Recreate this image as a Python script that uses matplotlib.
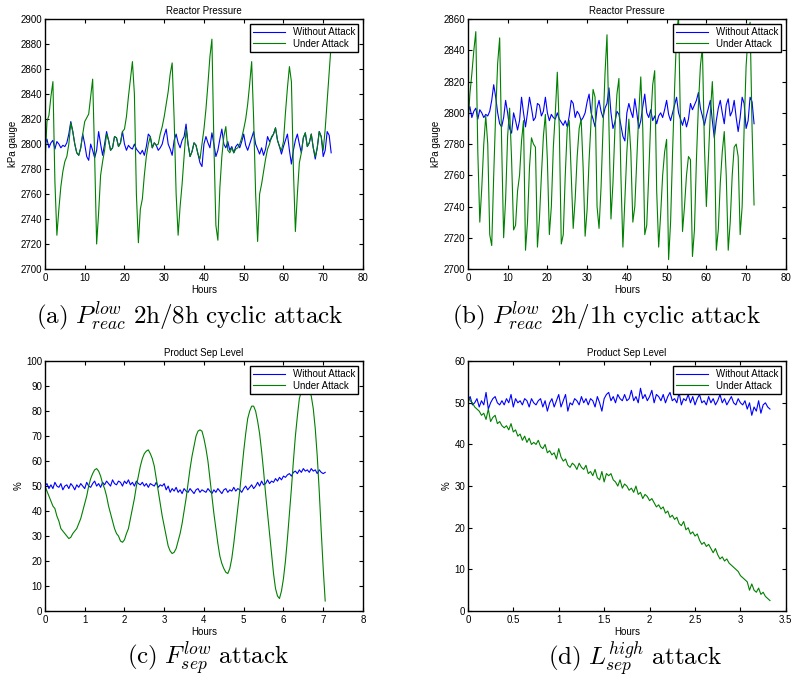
import numpy as np
import matplotlib.pyplot as plt

plt.rcParams['font.family'] = ['Liberation Sans', 'DejaVu Sans']
plt.rcParams['mathtext.fontset'] = 'cm'

# Reactor pressure, sampled every 0.5 h from 0 to 72 h
pressure_normal = [
    2800, 2804, 2797, 2801, 2803, 2796, 2802, 2800, 2797, 2799,
    2798, 2801, 2808, 2818, 2810, 2800, 2793, 2791, 2797, 2808,
    2800, 2790, 2787, 2800, 2795, 2789, 2795, 2810, 2800, 2791,
    2800, 2810, 2803, 2795, 2797, 2806, 2805, 2798, 2801, 2810,
    2800, 2795, 2799, 2797, 2796, 2800, 2796, 2794, 2792, 2795,
    2791, 2798, 2808, 2806, 2797, 2801, 2799, 2795, 2797, 2800,
    2807, 2812, 2800, 2796, 2791, 2803, 2808, 2801, 2797, 2803,
    2806, 2816, 2800, 2790, 2794, 2801, 2799, 2792, 2785, 2782,
    2800, 2806, 2801, 2797, 2809, 2800, 2790, 2795, 2804, 2812,
    2800, 2797, 2802, 2795, 2798, 2793, 2798, 2800, 2797, 2802,
    2808, 2799, 2795, 2800, 2805, 2810, 2800, 2796, 2792, 2797,
    2791, 2796, 2806, 2802, 2805, 2808, 2813, 2803, 2798, 2792,
    2798, 2803, 2808, 2795, 2784, 2795, 2803, 2808, 2800, 2793,
    2805, 2809, 2798, 2801, 2808, 2797, 2788, 2797, 2810, 2806,
    2790, 2795, 2810, 2807, 2793,
]

pressure_attack_8h = [
    2784, 2818, 2823, 2838, 2850, 2770, 2727, 2748, 2766, 2778,
    2786, 2790, 2800, 2817, 2810, 2800, 2793, 2791, 2797, 2808,
    2818, 2821, 2824, 2838, 2852, 2790, 2720, 2745, 2775, 2786,
    2795, 2808, 2803, 2795, 2797, 2806, 2805, 2798, 2801, 2810,
    2812, 2822, 2838, 2852, 2866, 2840, 2760, 2721, 2748, 2756,
    2775, 2790, 2800, 2806, 2797, 2801, 2799, 2800, 2808, 2814,
    2822, 2832, 2842, 2856, 2865, 2820, 2760, 2727, 2750, 2768,
    2790, 2812, 2800, 2790, 2794, 2801, 2799, 2792, 2788, 2800,
    2812, 2828, 2848, 2870, 2884, 2800, 2735, 2723, 2765, 2790,
    2806, 2814, 2795, 2793, 2797, 2793, 2796, 2797, 2800, 2805,
    2812, 2820, 2832, 2848, 2866, 2820, 2760, 2722, 2760, 2768,
    2778, 2788, 2796, 2800, 2806, 2808, 2813, 2803, 2798, 2795,
    2802, 2825, 2845, 2862, 2850, 2780, 2730, 2760, 2785, 2793,
    2805, 2809, 2798, 2801, 2808, 2797, 2790, 2797, 2810, 2806,
    2795, 2812, 2835, 2858, 2880,
]

pressure_attack_1h = [
    2790, 2812, 2825, 2840, 2852, 2775, 2730, 2752, 2780, 2798,
    2780, 2722, 2715, 2760, 2800, 2832, 2848, 2780, 2720, 2745,
    2785, 2803, 2770, 2725, 2728, 2750, 2760, 2782, 2795, 2712,
    2730, 2765, 2784, 2780, 2778, 2714, 2732, 2760, 2785, 2799,
    2770, 2722, 2740, 2778, 2800, 2826, 2790, 2716, 2722, 2760,
    2790, 2795, 2760, 2726, 2745, 2772, 2790, 2796, 2765, 2721,
    2738, 2770, 2795, 2815, 2810, 2740, 2726, 2752, 2790, 2825,
    2850, 2790, 2732, 2755, 2790, 2812, 2822, 2760, 2714, 2745,
    2775, 2796, 2775, 2730, 2740, 2770, 2800, 2823, 2790, 2722,
    2728, 2760, 2795, 2818, 2827, 2750, 2714, 2735, 2760, 2775,
    2783, 2706, 2730, 2775, 2815, 2850, 2862, 2790, 2724, 2740,
    2760, 2772, 2770, 2708, 2725, 2770, 2805, 2830, 2842, 2780,
    2740, 2770, 2800, 2820, 2790, 2712, 2725, 2755, 2775, 2788,
    2760, 2712, 2730, 2760, 2778, 2780, 2772, 2722, 2740, 2790,
    2830, 2850, 2858, 2790, 2741,
]

# Product separator level, sampled every 0.05 h from 0 to 7.05 h
level_normal_c = [
    50, 51, 49, 50.5, 49, 51.5, 50, 49.5, 51, 48.5, 50, 50.5, 49, 51, 50, 48.5, 50.5, 49.5, 51, 50, 49,
    51.5, 50, 49.5, 51, 52, 50, 51, 49.5, 51.5, 50.5, 52, 51, 50, 52.5, 51, 50.5, 52, 51.5, 50, 52,
    51, 52.5, 50.5, 51.5, 50, 52, 51, 50.5, 51.5, 50, 51, 49.5, 51, 50.5, 50, 51.5, 49.5, 50.5, 50, 51,
    48.5, 50, 47.5, 49, 48, 49.5, 47.5, 48.5, 47, 49, 48, 47.5, 49, 48, 47, 48.5, 49, 47.5, 48.5, 48,
    47.5, 49, 48, 47, 48.5, 47.5, 49, 48, 47, 48.5, 49, 47.5, 48.5, 48, 49.5, 48, 49, 48.5, 47.5, 49,
    50, 48.5, 49.5, 50.5, 49, 50, 51.5, 50, 52, 50.5, 51, 52.5, 51, 52, 51.5, 53, 52, 53.5, 52.5, 54,
    53.5, 54.5, 55, 54, 55.5, 56, 55, 56.5, 55.5, 57, 56, 56.5, 55.5, 57, 56, 56.5, 55, 56.5, 55.5, 55, 55.5,
]

level_attack_c = [
    50, 48, 46, 44, 42, 41, 38, 36, 33, 32, 31, 30, 29, 29.5, 31, 32, 33, 35, 37, 40,
    43, 46, 50, 53, 55, 56.5, 57, 56, 54, 51, 49, 46, 42, 39, 36, 33, 31, 30, 28, 27.5,
    28.5, 31, 33, 37, 41, 45, 50, 54, 58, 61, 63, 64, 64.5, 63, 61, 58, 53, 48, 43, 38,
    34, 30, 26, 24, 23, 23.5, 25, 28, 31, 35, 40, 45, 51, 57, 62, 66, 70, 72, 72.5, 72,
    69, 65, 60, 53, 46, 39, 33, 27, 22, 19, 17, 15.5, 15, 17, 21, 27, 34, 41, 48, 56,
    64, 71, 77, 80, 82, 82, 80, 76, 71, 64, 56, 47, 39, 31, 23, 15, 9, 6, 5, 8,
    13, 20, 29, 39, 49, 60, 70, 78, 85, 88, 89, 89, 89, 88.5, 86, 81, 73, 62, 48, 32,
    17, 4,
]

# Product separator level, sampled every 0.025 h from 0 to 3.325 h
level_normal_d = [
    50.5, 51.5, 49.5, 50, 51, 49, 50.5, 49.5, 52.5, 48.5, 50,
    51, 51.5, 50, 49.5, 50.5, 49.5, 51, 50, 52, 49,
    51, 50, 50.5, 49.5, 51, 50.5, 49, 51, 50, 49.5,
    50.5, 51, 49, 50.5, 48, 50, 51, 49, 50.5, 52,
    49, 50.5, 52, 48, 50, 49.5, 51, 50.5, 49.5, 51.5,
    50, 51, 49.5, 51, 50.5, 49, 51.5, 50, 48, 51,
    52, 52.5, 50.5, 51.5, 50, 52, 51, 50.5, 52, 50.5,
    51, 53, 50.5, 51.5, 50, 53.5, 51, 52, 50.5, 51.5,
    53, 50, 52, 51.5, 50.5, 52, 50, 51.5, 52.5, 50.5,
    51, 50, 52.5, 49.5, 51, 50.5, 52, 50, 51.5, 49.5,
    51, 52, 50, 50.5, 49.5, 51.5, 50, 51, 49.5, 50.5,
    52, 50, 51, 49.5, 50.5, 51.5, 50, 49.5, 51, 50,
    49.5, 50.5, 48.5, 50, 47, 49, 48, 50.5, 47.5, 49.5,
    50, 49, 48.5,
]

level_attack_d = [
    51.5, 50.5, 50, 49, 48.5, 48, 47, 47.5, 46, 48.5, 45.5,
    46.5, 47, 45, 45.5, 44.5, 44, 44.5, 43.5, 45, 43,
    43.5, 42, 42.5, 41, 42, 40.5, 41.5, 40, 40.5, 40,
    41, 39.5, 39, 40, 38, 38.5, 37.5, 38, 36.5, 39,
    37, 36, 36.5, 35, 34.5, 35.5, 35, 34, 35.5, 34.5,
    34, 35, 33, 33.5, 32.5, 34, 32, 31.5, 33.5, 31,
    33, 32.5, 33, 31.5, 31, 30, 31.5, 29.5, 30.5, 30,
    29, 29.5, 28.5, 30, 28, 28.5, 27, 28, 27.5, 26.5,
    27, 26, 25, 25.5, 24.5, 25, 23.5, 24, 22.5, 23,
    22, 22.5, 21, 20.5, 21.5, 19.5, 20, 18.5, 19, 18,
    18.5, 17, 16, 16.5, 15.5, 16, 15, 14, 15, 13.5,
    12.5, 13, 12, 12.5, 11.5, 11, 10.5, 10, 9.5, 8.5,
    8, 7.5, 7, 5, 6.5, 5, 4.5, 5.5, 4, 4.5,
    3.5, 3, 2.5,
]

d_ticks = [0, 0.5, 1, 1.5, 2, 2.5, 3, 3.5]
d_tick_labels = ['0', '0.5', '1', '1.5', '2', '2.5', '3', '3.5']

hours_ab = np.arange(len(pressure_normal)) * 0.5
hours_c = np.arange(len(level_normal_c)) * 0.05
hours_d = np.arange(len(level_normal_d)) * 0.025

BLUE = (0, 0, 1)
GREEN = (0, 0.5, 0)

fig = plt.figure(figsize=(7.93, 6.77), dpi=100)

def setup(ax, title, ylabel, xlim, ylim, xticks, yticks):
    ax.set_xlim(xlim)
    ax.set_ylim(ylim)
    ax.set_xticks(xticks)
    ax.set_yticks(yticks)
    ax.tick_params(direction='in', top=True, right=True, labelsize=7,
                   length=3, width=0.8)
    ax.tick_params(axis='y', pad=2)
    ax.tick_params(axis='x', pad=3)
    for s in ax.spines.values():
        s.set_linewidth(1.0)
    ax.set_title(title, fontsize=7, pad=4)
    ax.set_xlabel('Hours', fontsize=7, labelpad=1)
    ax.set_ylabel(ylabel, fontsize=7, labelpad=2)
    leg = ax.legend(loc='upper right', fontsize=7, fancybox=False,
                    framealpha=1, edgecolor='black', borderpad=0.3,
                    handlelength=3.3, labelspacing=0.2, borderaxespad=0.5)
    leg.get_frame().set_linewidth(1.0)

w, h = 0.401, 0.369
ax_a = fig.add_axes([0.0567, 0.6027, w, h])
ax_a.plot(hours_ab, pressure_normal, color=BLUE, lw=0.8, label='Without Attack')
ax_a.plot(hours_ab, pressure_attack_8h, color=GREEN, lw=0.8, label='Under Attack')
setup(ax_a, 'Reactor Pressure', 'kPa gauge', (0, 80), (2700, 2900),
      range(0, 81, 10), range(2700, 2901, 20))

ax_b = fig.add_axes([0.590, 0.6027, w, h])
ax_b.plot(hours_ab, pressure_normal, color=BLUE, lw=0.8, label='Without Attack')
ax_b.plot(hours_ab, pressure_attack_1h, color=GREEN, lw=0.8, label='Under Attack')
setup(ax_b, 'Reactor Pressure', 'kPa gauge', (0, 80), (2700, 2860),
      range(0, 81, 10), range(2700, 2861, 20))

ax_c = fig.add_axes([0.0567, 0.0975, w, h])
ax_c.plot(hours_c, level_normal_c, color=BLUE, lw=0.8, label='Without Attack')
ax_c.plot(hours_c, level_attack_c, color=GREEN, lw=0.8, label='Under Attack')
setup(ax_c, 'Product Sep Level', '%', (0, 8), (0, 100),
      range(0, 9), range(0, 101, 10))

ax_d = fig.add_axes([0.590, 0.0975, w, h])
ax_d.plot(hours_d, level_normal_d, color=BLUE, lw=0.8, label='Without Attack')
ax_d.plot(hours_d, level_attack_d, color=GREEN, lw=0.8, label='Under Attack')
setup(ax_d, 'Product Sep Level', '%', (0, 3.5), (0, 60),
      d_ticks, range(0, 61, 10))
ax_d.set_xticklabels(d_tick_labels)

cap = dict(fontsize=18, ha='center', va='center')
fig.text(190 / 793, 1 - 316 / 677,
         r'$\mathrm{(a)}\ P^{low}_{reac}\ \mathrm{2h/8h\ cyclic\ attack}$', **cap)
fig.text(606 / 793, 1 - 316 / 677,
         r'$\mathrm{(b)}\ P^{low}_{reac}\ \mathrm{2h/1h\ cyclic\ attack}$', **cap)
fig.text(208 / 793, 1 - 659 / 677,
         r'$\mathrm{(c)}\ F^{low}_{sep}\ \mathrm{attack}$', **cap)
fig.text(635 / 793, 1 - 659 / 677,
         r'$\mathrm{(d)}\ L^{high}_{sep}\ \mathrm{attack}$', **cap)

fig.savefig('out.png', dpi=100)
